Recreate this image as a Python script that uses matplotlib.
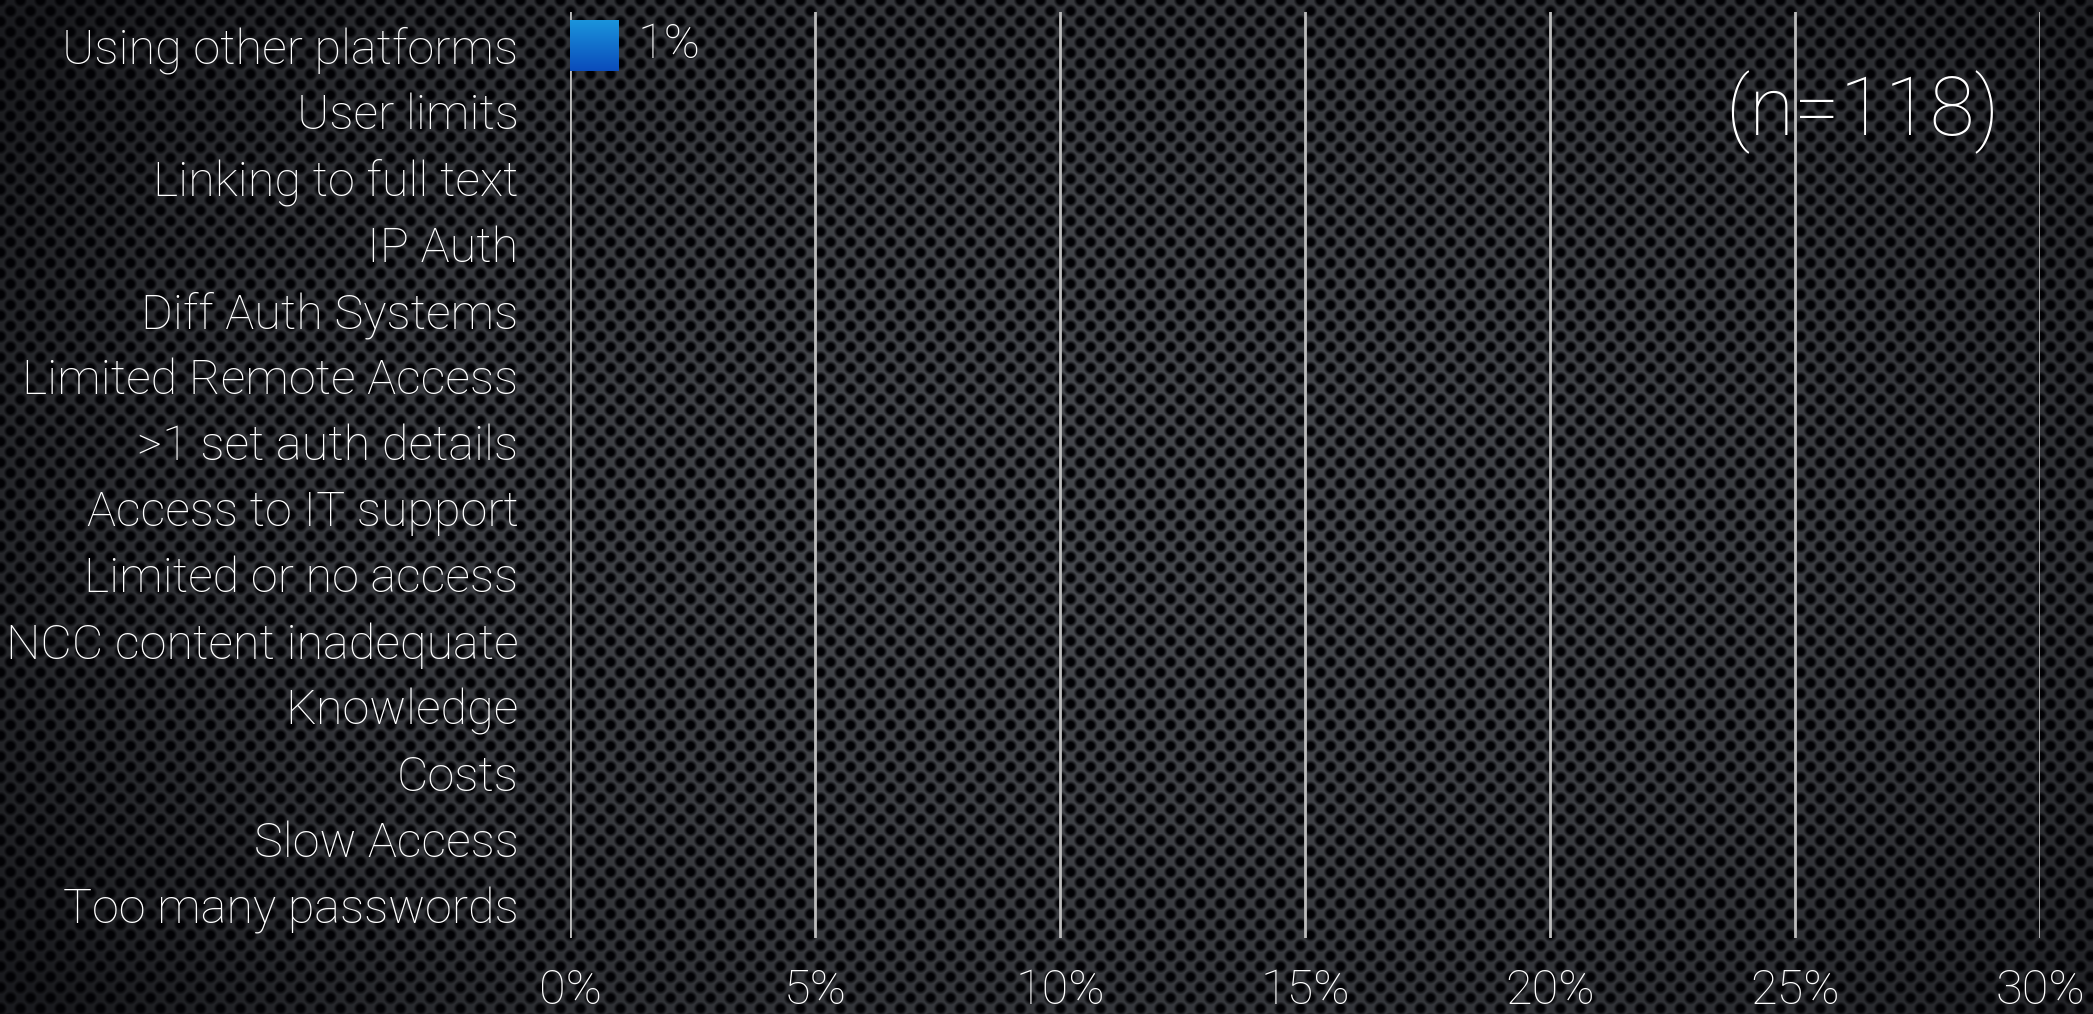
import numpy as np
import matplotlib.pyplot as plt

# data
categories = ["Using other platforms", "User limits", "Linking to full text", "IP Auth",
              "Diff Auth Systems", "Limited Remote Access", ">1 set auth details",
              "Access to IT support", "Limited or no access", "NCC content inadequate",
              "Knowledge", "Costs", "Slow Access", "Too many passwords"]
values = [1, 0, 0, 0, 0, 0, 0, 0, 0, 0, 0, 0, 0, 0]
x_ticks = [0, 5, 10, 15, 20, 25, 30]
x_tick_labels = ["0%", "5%", "10%", "15%", "20%", "25%", "30%"]
note = "(n=118)"

FONT = "Roboto"
W, H = 2093, 1014


def metal_background(w, h):
    # perforated metal look
    yy, xx = np.mgrid[0:h, 0:w].astype(float)
    px, py = 20.0, 10.5

    def lattice_dist(x0, y0):
        dx = (xx - x0 + px / 2) % px - px / 2
        dy = (yy - y0 + py) % (2 * py) - py
        return np.hypot(dx, dy)

    d = np.minimum(lattice_dist(0, 0), lattice_dist(px / 2, py))
    t = np.clip((d - 3.5) / 3.5, 0, 1)
    cx, cy = w * 0.55, h * 0.5
    rr = ((xx - cx) / (w * 0.62)) ** 2 + ((yy - cy) / (h * 0.8)) ** 2
    v = np.clip(1 - 0.6 * rr, 0.35, 1)
    metal = np.array([0.27, 0.28, 0.30])
    hole = np.array([0.01, 0.01, 0.02])
    return hole + (metal - hole) * (t * v)[..., None]


fig = plt.figure(figsize=(W / 100, H / 100), dpi=100)
bg = fig.add_axes([0, 0, 1, 1], zorder=-10)
bg.imshow(metal_background(W, H), aspect="auto", interpolation="nearest")
bg.axis("off")

ax = fig.add_axes([570 / W, 1 - 938 / H, (2040 - 570) / W, (938 - 12) / H])
ax.set_facecolor("none")

y_pos = np.arange(len(categories))
bars = ax.barh(y_pos, values, height=0.77, color="#1170cf", zorder=3)

# vertical blue gradient on the bars
grad = np.linspace(0, 1, 100)[:, None]
cmap = plt.matplotlib.colors.LinearSegmentedColormap.from_list("b", ["#1a94dc", "#0a4cbc"])
for rect, val in zip(bars, values):
    if val <= 0:
        rect.set_visible(False)
        continue
    x0, y0 = rect.get_x(), rect.get_y()
    im = ax.imshow(grad, cmap=cmap, aspect="auto", zorder=4,
                   extent=[x0, x0 + rect.get_width(), y0 + rect.get_height(), y0])
    im.set_clip_path(rect)
    ax.text(val + 0.37, rect.get_y() + rect.get_height() / 2, "%d%%" % val,
            color="white", fontsize=35, fontfamily=FONT, fontweight="light",
            va="center", ha="left", zorder=5)

ax.set_xlim(0, 30)
ax.set_ylim(len(categories) - 0.5, -0.5)
ax.set_xticks(x_ticks)
ax.set_xticklabels(x_tick_labels)
ax.set_yticks(y_pos)
ax.set_yticklabels(categories)
ax.tick_params(axis="x", length=0, pad=21, colors="white", labelsize=35)
ax.tick_params(axis="y", length=0, pad=37, colors="white", labelsize=35)
for lab in ax.get_xticklabels() + ax.get_yticklabels():
    lab.set_fontfamily(FONT)
    lab.set_fontweight("light")

for s in ax.spines.values():
    s.set_visible(False)
ax.xaxis.grid(True, color="#bdbdbd", linewidth=2, zorder=1)
ax.set_axisbelow(True)

fig.text(1862 / W, 1 - 112 / H, note, color="white", fontsize=59,
         fontfamily=FONT, fontweight="light", ha="center", va="center")

fig.savefig("out.png", dpi=100)
